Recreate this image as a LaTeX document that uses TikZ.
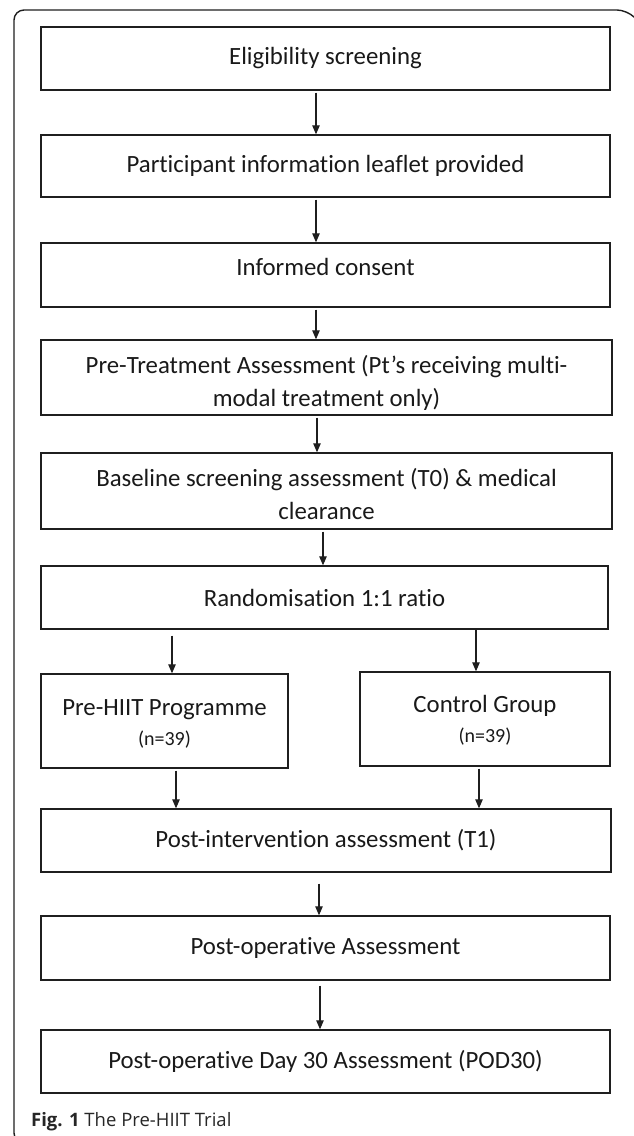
\documentclass[tikz,border=0pt]{standalone}
\usepackage{fontspec}
\setmainfont{Carlito}[Ligatures=NoCommon]
\newfontfamily\capfont{Open Sans}
\usetikzlibrary{arrows.meta}
\begin{document}
\begin{tikzpicture}[x=1pt,y=-1pt,
  box/.style={draw=black!88, line width=1.4pt, rectangle, inner sep=0pt, align=center,
    font=\fontsize{24.8}{33}\selectfont, text=black!90},
  txt/.style={inner sep=0pt, align=center, font=\fontsize{24.8}{33}\selectfont, text=black!90},
  small/.style={font=\fontsize{20}{22}\selectfont},
  arr/.style={draw=black!88, line width=1.1pt, -{Triangle[length=9pt,width=7.5pt]}},
  frame/.style={draw=black!88, line width=1.4pt, rounded corners=10pt}]
\useasboundingbox (0,0) rectangle (633,1136);
\draw[frame] (32,1143) -- (14,1143) -- (14,10) -- (627,10) -- (634,17);

\node[box, minimum width=569pt, minimum height=63pt] (b1) at (325.5,58.5) {Eligibility screening};
\node[box, minimum width=569pt, minimum height=62pt] (b2) at (325.5,166) {Participant information leaflet provided};
\node[box, minimum width=569pt, minimum height=64pt] (b3) at (325.5,275) {\smash{Informed consent}};
\node[box, minimum width=571pt, minimum height=75pt] (b4) at (326.5,377.5) {};
\node[txt] (t4) at ([yshift=-5pt]b4.center) {Pre-Treatment Assessment (Pt's receiving multi-\\modal treatment only)};
\node[box, minimum width=571pt, minimum height=76pt] (b5) at (326.5,491) {};
\node[txt] (t5) at ([yshift=-3.5pt]b5.center) {Baseline screening assessment (T0) \& medical\\clearance};
\node[box, minimum width=567pt, minimum height=63pt] (b6) at (324.5,597.5) {Randomisation 1:1 ratio};
\node[box, minimum width=247pt, minimum height=94pt] (b7) at (164.5,721) {};
\node[txt] (t7) at ([yshift=-2.5pt]b7.center) {Pre-HIIT Programme\\[-3pt]{\fontsize{20}{22}\selectfont (n=39)}};
\node[box, minimum width=250pt, minimum height=94pt] (b8) at (485,719) {};
\node[txt] (t8) at ([yshift=-1.5pt]b8.center) {Control Group\\[-3pt]{\fontsize{20}{22}\selectfont (n=39)}};
\node[box, minimum width=570pt, minimum height=63pt] (b9) at (326,840.5) {Post-intervention assessment (T1)};
\node[box, minimum width=569pt, minimum height=64pt] (b10) at (325.5,948) {Post-operative Assessment};
\node[box, minimum width=569pt, minimum height=63pt] (b11) at (325.5,1061.5) {Post-operative Day 30 Assessment (POD30)};

\draw[arr] ([xshift=-9.5pt,yshift=-2pt]b1.south) -- ([xshift=-9.5pt]b2.north);
\draw[arr] ([xshift=-9.5pt,yshift=-2pt]b2.south) -- ([xshift=-9.5pt]b3.north);
\draw[arr] ([xshift=-9.5pt,yshift=-2pt]b3.south) -- ([xshift=-10.5pt]b4.north);
\draw[arr] ([xshift=-9.5pt,yshift=-2pt]b4.south) -- ([xshift=-9.5pt]b5.north);
\draw[arr] ([xshift=-3.5pt,yshift=-2pt]b5.south) -- ([xshift=-1.5pt]b6.north);
\draw[arr] ([xshift=-152.5pt,yshift=-6pt]b6.south) -- ([xshift=7.5pt]b7.north);
\draw[arr] ([xshift=151.5pt]b6.south) -- ([xshift=-9pt]b8.north);
\draw[arr] ([xshift=11.5pt,yshift=-2pt]b7.south) -- ([xshift=-150pt]b9.north);
\draw[arr] ([xshift=-6pt,yshift=-2pt]b8.south) -- ([xshift=153pt]b9.north);
\draw[arr] ([xshift=-7pt,yshift=-11pt]b9.south) -- ([xshift=-6.5pt]b10.north);
\draw[arr] ([xshift=-5.5pt,yshift=-5pt]b10.south) -- ([xshift=-5.5pt]b11.north);

\node[anchor=base west, inner sep=0pt, text=black!85] (cap) at (31,1126) {\capfont\fontsize{18.5}{20}\selectfont\textbf{Fig. 1} The Pre-HIIT Trial};
\end{tikzpicture}
\end{document}
